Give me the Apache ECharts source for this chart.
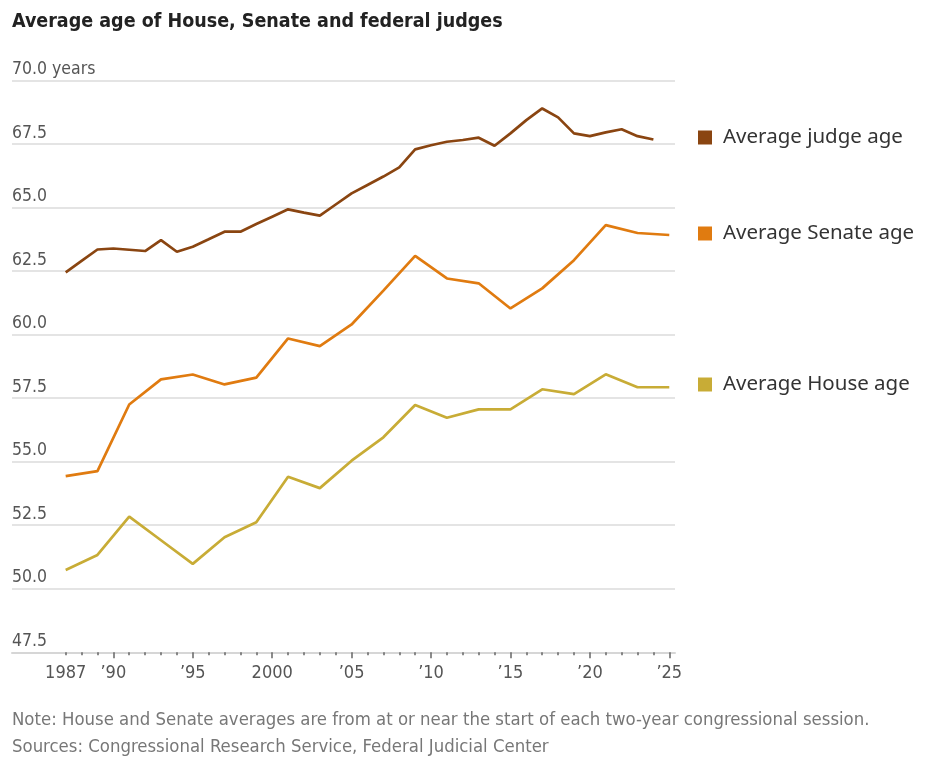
<!DOCTYPE html>
<html>
<head>
<meta charset="utf-8">
<script src="https://cdn.jsdelivr.net/npm/echarts@6/dist/echarts.min.js"></script>
<style>
  html, body { margin: 0; padding: 0; background: #fff; }
  #chart { width: 936px; height: 767px; }
</style>
</head>
<body>
<div id="chart"></div>
<script>
// Average age of House, Senate and federal judges
const narrow = "'Liberation Sans Narrow', 'DejaVu Sans Condensed', sans-serif";

const judgeYears = [1987, 1988, 1989, 1990, 1991, 1992, 1993, 1994, 1995, 1996, 1997, 1998, 1999,
    2000, 2001, 2002, 2003, 2004, 2005, 2006, 2007, 2008, 2009, 2010, 2011, 2012, 2013, 2014,
    2015, 2016, 2017, 2018, 2019, 2020, 2021, 2022, 2023, 2024];
const judgeAge = [62.45, 62.9, 63.35, 63.39, 63.34, 63.29, 63.72, 63.26, 63.46, 63.75, 64.05, 64.05, 64.35,
    64.64, 64.93, 64.8, 64.68, 65.12, 65.56, 65.89, 66.22, 66.58, 67.29, 67.45, 67.59, 67.66, 67.75, 67.43,
    67.92, 68.44, 68.9, 68.55, 67.92, 67.81, 67.96, 68.08, 67.81, 67.68];

const sessionYears = [1987, 1989, 1991, 1993, 1995, 1997, 1999, 2001, 2003, 2005, 2007, 2009, 2011,
    2013, 2015, 2017, 2019, 2021, 2023, 2025];
const senateAge = [54.43, 54.63, 57.25, 58.24, 58.43, 58.04, 58.31, 59.85, 59.55, 60.4, 61.73, 63.1, 62.21,
    62.02, 61.03, 61.82, 62.93, 64.31, 64.0, 63.92];
const houseAge = [50.74, 51.33, 52.84, 51.91, 50.98, 52.03, 52.62, 54.41, 53.96, 55.04, 55.96, 57.23, 56.73,
    57.06, 57.06, 57.85, 57.66, 58.44, 57.93, 57.93];

const minorTickYears = judgeYears.concat([2025]);
const majorTickYears = [1990, 1995, 2000, 2005, 2010, 2015, 2020, 2025];
const labelYears = [1987, 1990, 1995, 2000, 2005, 2010, 2015, 2020, 2025];

const colors = { judge: "#8a4511", senate: "#e07b10", house: "#c8ac36" };

function pairs(xs, ys) { return xs.map((x, i) => [x, ys[i]]); }

function yearLabel(v) {
    if (v === 1987 || v === 2000) return String(v);
    return "\u2019" + String(v).slice(2);
}

const xMin = 1983.62, xMax = 2025.36;

function legendAt(name, top) {
    return {
        data: [name], left: 698, top: top, orient: "vertical", padding: 0,
        icon: "rect", itemWidth: 14, itemHeight: 14, itemGap: 0, selectedMode: false,
        textStyle: { fontFamily: "'Noto Sans', sans-serif", fontSize: 20.5, color: "#333", padding: [0, 0, 0, 6] }
    };
}

const chart = echarts.init(document.getElementById("chart"), null, { renderer: "canvas" });
chart.setOption({
    animation: false,
    backgroundColor: "#fff",
    title: {
        text: "Average age of House, Senate and federal judges",
        left: 12, top: 12, padding: 0,
        textStyle: { fontFamily: narrow, fontWeight: "bold", fontSize: 19.5, color: "#222" }
    },
    graphic: [
        {
            type: "text", left: 12, top: 707,
            style: {
                text: "Note: House and Senate averages are from at or near the start of each two-year congressional session.\nSources: Congressional Research Service, Federal Judicial Center",
                fontFamily: narrow, fontSize: 18.4, lineHeight: 27, fill: "#777"
            }
        }
    ],
    legend: [
        legendAt("Average judge age", 127),
        legendAt("Average Senate age", 223),
        legendAt("Average House age", 374)
    ],
    grid: { left: 12, right: 261, top: 80.5, bottom: 114.7, containLabel: false },
    xAxis: [
        {
            type: "value", min: xMin, max: xMax,
            axisLine: { show: true, onZero: false, lineStyle: { color: "#d6d6d6", width: 2 } },
            axisTick: { show: false }, axisLabel: { show: false }, splitLine: { show: false }
        },
        {
            type: "value", min: xMin, max: xMax, position: "bottom",
            axisLine: { show: false, onZero: false },
            axisTick: { show: true, length: 3, customValues: minorTickYears, lineStyle: { color: "#666", width: 1.5 } },
            axisLabel: { show: false }, splitLine: { show: false }
        },
        {
            type: "value", min: xMin, max: xMax, position: "bottom",
            axisLine: { show: false, onZero: false },
            axisTick: { show: true, length: 6, customValues: majorTickYears, lineStyle: { color: "#666", width: 1.5 } },
            axisLabel: {
                show: true, customValues: labelYears, margin: 12, formatter: yearLabel,
                fontFamily: narrow, fontSize: 18, color: "#555"
            },
            splitLine: { show: false }
        }
    ],
    yAxis: {
        type: "value", min: 47.5, max: 70, interval: 2.5,
        axisLine: { show: false }, axisTick: { show: false },
        axisLabel: {
            inside: true, margin: 0, verticalAlign: "bottom", padding: [0, 0, 2, 0],
            fontFamily: narrow, fontSize: 17.5, color: "#555",
            formatter: v => v === 70 ? "70.0 years" : v.toFixed(1)
        },
        splitLine: { lineStyle: { color: "#e4e4e4", width: 2 } }
    },
    series: [
        {
            name: "Average judge age", type: "line", xAxisIndex: 0, symbol: "none",
            data: pairs(judgeYears, judgeAge), color: colors.judge,
            lineStyle: { width: 2.7, color: colors.judge }
        },
        {
            name: "Average Senate age", type: "line", xAxisIndex: 0, symbol: "none",
            data: pairs(sessionYears, senateAge), color: colors.senate,
            lineStyle: { width: 2.7, color: colors.senate }
        },
        {
            name: "Average House age", type: "line", xAxisIndex: 0, symbol: "none",
            data: pairs(sessionYears, houseAge), color: colors.house,
            lineStyle: { width: 2.7, color: colors.house }
        }
    ]
});

window.addEventListener("resize", () => chart.resize());
</script>
</body>
</html>
